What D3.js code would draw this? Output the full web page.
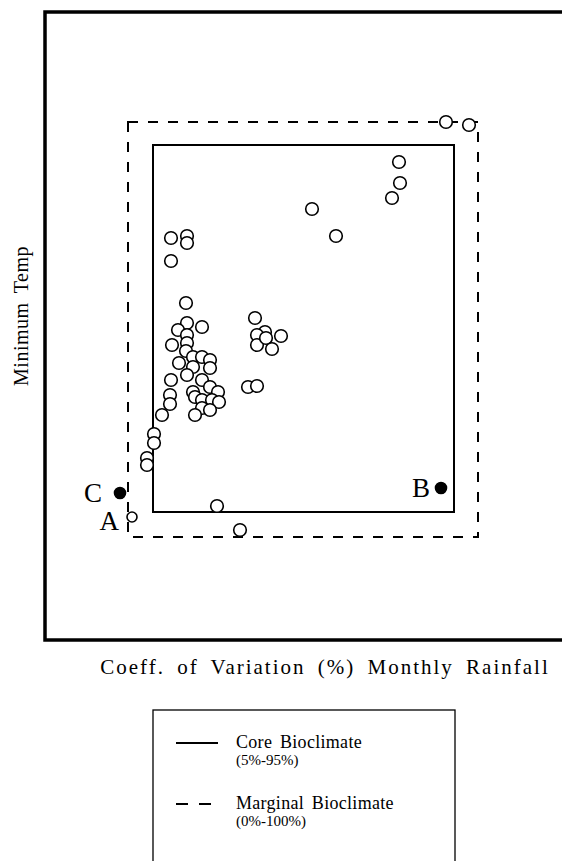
<!DOCTYPE html>
<html>
<head>
<meta charset="utf-8">
<script src="https://cdn.jsdelivr.net/npm/d3@7"></script>
<style>
    body { margin: 0; background: #fff; }
    svg text { font-family: "Liberation Serif", "Times New Roman", serif; fill: #000; }
</style>
</head>
<body>
<div id="chart"></div>
<script>

//- Prepare Globals
const CHARTDIVNAME = "#chart";

const _svgWidth = 562;
const _svgHeight = 861;

// Site records: coeff. of variation of monthly rainfall (x) and minimum temp (y), chart units
const siteRainCv = [80.2, 84.8, 70.8, 71, 69.4, 53.4, 58.2, 25.2, 28.4, 28.4, 25.2, 28.2, 42, 28.4, 31.4,
    26.6, 28.4, 44, 42.4, 47.2, 28.4, 25.4, 42.4, 44.2, 45.4, 28.2, 29.6, 31.4, 33, 26.8, 29.6, 33, 28.4,
    31.4, 25.2, 40.6, 42.4, 33, 29.6, 34.6, 25, 30, 31.4, 33.4, 34.8, 25, 31.4, 33, 30, 23.4, 21.8, 21.8,
    20.4, 20.4, 34.4, 39];
const siteMinTemp = [103.6, 103, 95.6, 91.4, 88.4, 86.2, 80.8, 80.4, 80.8, 79.4, 75.8, 67.4, 64.4, 63.4, 62.6,
    62, 61, 61.6, 61, 60.8, 59.4, 59, 59, 60.4, 58.2, 57.8, 56.6, 56.6, 56, 55.4, 54.6, 54.4, 53,
    52, 52, 50.6, 50.8, 50.6, 49.6, 49.6, 49, 48.6, 48, 48, 47.6, 47.2, 46.4, 46, 45, 45, 41.2, 39.4,
    36.4, 35, 26.8, 22];

// Labelled test locations
const pointNames = ["A", "B", "C"];
const pointRainCv = [17.4, 79.2, 15];
const pointMinTemp = [24.6, 30.4, 29.4];
const pointFilled = [false, true, true];

// Bioclimate envelopes [xMin, xMax, yMin, yMax]
const coreEnvelope = [21.6, 81.8, 25.6, 99];
const marginalEnvelope = [16.6, 86.6, 20.6, 103.6];

const xAxisLabel = "Coeff. of Variation (%) Monthly Rainfall";
const yAxisLabel = "Minimum Temp";

const legendNames = ["Core Bioclimate", "Marginal Bioclimate"];
const legendRanges = ["(5%-95%)", "(0%-100%)"];


function createChart(){

    //-- Prepare Chart Area
    let svgContainer = d3.select(CHARTDIVNAME).append("svg")
        .attr("width", _svgWidth)
        .attr("height", _svgHeight);

    //- Scales; plot frame runs off the right edge of the page
    let xScale = d3.scaleLinear().domain([0, 112]).range([45, 605]);
    let yScale = d3.scaleLinear().domain([0, 125.6]).range([640, 12]);

    //- Outer frame
    svgContainer.append("rect")
        .attr("x", xScale(0))
        .attr("y", yScale(125.6))
        .attr("width", xScale(112) - xScale(0))
        .attr("height", yScale(0) - yScale(125.6))
        .attr("fill", "none")
        .attr("stroke", "#000")
        .attr("stroke-width", 3.5);

    //- Envelopes
    let envelopeRect = (env, dash, width) => svgContainer.append("rect")
        .attr("x", xScale(env[0]))
        .attr("y", yScale(env[3]))
        .attr("width", xScale(env[1]) - xScale(env[0]))
        .attr("height", yScale(env[2]) - yScale(env[3]))
        .attr("fill", "none")
        .attr("stroke", "#000")
        .attr("stroke-width", width)
        .attr("stroke-dasharray", dash);

    envelopeRect(marginalEnvelope, "10,10", 2);
    envelopeRect(coreEnvelope, null, 2);

    //- Site points
    svgContainer.append("g").selectAll("circle")
        .data(siteRainCv.map((d, i) => ({x: d, y: siteMinTemp[i]})))
        .enter()
        .append("circle")
        .attr("cx", d => xScale(d.x))
        .attr("cy", d => yScale(d.y))
        .attr("r", 6.3)
        .attr("fill", "#fff")
        .attr("stroke", "#000")
        .attr("stroke-width", 1.6);

    //- Named points A, B, C
    let named = pointNames.map((n, i) => ({name: n, x: pointRainCv[i], y: pointMinTemp[i], filled: pointFilled[i]}));

    let namedGroup = svgContainer.append("g");

    namedGroup.selectAll("circle")
        .data(named)
        .enter()
        .append("circle")
        .attr("cx", d => xScale(d.x))
        .attr("cy", d => yScale(d.y))
        .attr("r", d => d.filled ? 5.5 : 5)
        .attr("fill", d => d.filled ? "#000" : "#fff")
        .attr("stroke", "#000")
        .attr("stroke-width", 1.6);

    // label offsets to the left of each point
    let labelDx = {A: 13, B: 11, C: 18};
    let labelDy = {A: 13, B: 9, C: 9};

    namedGroup.selectAll("text")
        .data(named)
        .enter()
        .append("text")
        .attr("x", d => xScale(d.x) - labelDx[d.name])
        .attr("y", d => yScale(d.y) + labelDy[d.name])
        .attr("text-anchor", "end")
        .style("font-size", "27px")
        .text(d => d.name);

    //-- Axis Labels
    svgContainer.append("text")
        .attr("x", 325)
        .attr("y", 674)
        .attr("text-anchor", "middle")
        .style("font-size", "21px")
        .style("word-spacing", "5px")
        .style("letter-spacing", "2px")
        .text(xAxisLabel);

    svgContainer.append("text")
        .attr("transform", "translate(28, 316) rotate(-90)")
        .attr("text-anchor", "middle")
        .style("font-size", "20px")
        .style("word-spacing", "4px")
        .style("letter-spacing", "0.5px")
        .text(yAxisLabel);

    //-- Legend
    let legendGroup = svgContainer.append("g").attr("transform", "translate(153, 710)");

    legendGroup.append("rect")
        .attr("x", 0)
        .attr("y", 0)
        .attr("width", 302)
        .attr("height", 200)
        .attr("fill", "none")
        .attr("stroke", "#000")
        .attr("stroke-width", 1.3);

    let legendItems = legendGroup.selectAll(".legendItem")
        .data(legendNames)
        .enter()
        .append("g")
        .attr("class", "legendItem")
        .attr("transform", (d, i) => `translate(0, ${i * 61})`);

    legendItems.append("line")
        .attr("x1", 23)
        .attr("x2", (d, i) => i == 0 ? 65 : 60)
        .attr("y1", 33)
        .attr("y2", 33)
        .attr("stroke", "#000")
        .attr("stroke-width", 2)
        .attr("stroke-dasharray", (d, i) => i == 0 ? null : "12,11");

    legendItems.append("text")
        .attr("x", 83)
        .attr("y", 38)
        .style("font-size", "18px")
        .style("word-spacing", "3px")
        .style("letter-spacing", "0.3px")
        .text(d => d);

    legendItems.append("text")
        .attr("x", 83)
        .attr("y", 55)
        .style("font-size", "15px")
        .text((d, i) => legendRanges[i]);
}


createChart();

</script>
</body>
</html>
